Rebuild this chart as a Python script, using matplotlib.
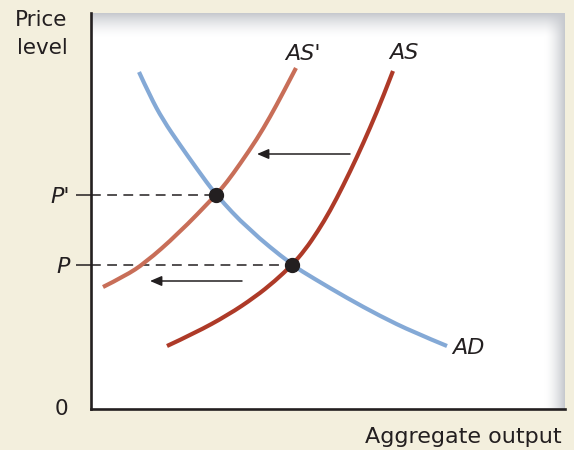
import numpy as np
import matplotlib
matplotlib.use("Agg")
import matplotlib.pyplot as plt
from matplotlib.path import Path
from matplotlib.patches import PathPatch

# ---- data (arbitrary output / price units) ----
AD_x = [48, 59, 72, 89, 106, 125, 157, 201, 222, 256, 289, 322, 356]
AD_y = [337, 313, 289, 264, 240, 214, 180, 144, 131, 111, 93, 77, 63]

ASp_x = [12, 34, 54, 87, 125, 136, 149, 166, 179, 192, 205]
ASp_y = [122, 133, 146, 175, 214, 227, 245, 270, 292, 316, 341]

AS_x = [76, 104, 137, 164, 184, 201, 214, 227, 239, 252, 266, 279, 292, 302]
AS_y = [63, 76, 94, 112, 128, 144, 159, 178, 198, 223, 252, 281, 312, 338]

eq_x = [201, 125]          # equilibrium outputs (AS, AS')
eq_y = [144, 214]          # price levels P, P'
price_labels = ["P", "P'"]

arrow_tail_x = [259, 151]
arrow_tip_x = [166, 59]
arrow_y = [255, 128]

X_MAX, Y_MAX = 474, 396

# ---- style ----
BG = "#f3efdd"
C_AD = "#84a9d6"
C_ASP = "#c86e58"
C_AS = "#ae3a28"
INK = "#231f20"
plt.rcParams['font.family'] = ["DejaVu Sans"]

fig = plt.figure(figsize=(5.74, 4.5), dpi=100, facecolor=BG)
ax = fig.add_axes([91/574, 41/450, 474/574, 396/450])
ax.set_xlim(0, X_MAX)
ax.set_ylim(0, Y_MAX)
ax.set_facecolor("white")

# panel shading (top and right soft shadow)
H, W = 396, 474
ii = np.arange(H)[:, None]
jj = np.arange(W)[None, :]
top = np.clip(1 - ii / 24.0, 0, 1) ** 1.6
right = np.clip(1 - (W - 1 - jj) / 20.0, 0, 1) ** 1.6
s = (1 - (1 - top) * (1 - right)) * np.ones((H, W))
edge = np.array([0.78, 0.79, 0.81])
img = np.ones((H, W, 3)) - s[..., None] * (1 - edge)[None, None, :]
ax.imshow(img, extent=(0, 1, 0, 1), transform=ax.transAxes, aspect='auto',
          zorder=0, interpolation='bilinear')

for sp in ["top", "right"]:
    ax.spines[sp].set_visible(False)
for sp in ["left", "bottom"]:
    ax.spines[sp].set_linewidth(1.9)
    ax.spines[sp].set_color(INK)
    ax.spines[sp].set_zorder(6)

ax.set_xticks([])
ax.set_yticks(eq_y)
ax.set_yticklabels(price_labels, fontsize=16, style='italic', color=INK)
ax.tick_params(axis='y', length=10.8, width=1.1, color=INK, pad=4.5, direction='out')

# dashed guides
for x, y in zip(eq_x, eq_y):
    ax.plot([0, x], [y, y], color=INK, lw=1.1, dashes=(6.4, 4.2), zorder=2)


def smooth_curve(xs, ys, color):
    pts = list(zip(xs, ys))
    verts = [pts[0]]
    codes = [Path.MOVETO]
    n = len(pts)
    for i in range(1, n - 1):
        c = pts[i]
        if i < n - 2:
            e = ((pts[i][0] + pts[i + 1][0]) / 2, (pts[i][1] + pts[i + 1][1]) / 2)
        else:
            e = pts[-1]
        verts += [c, e]
        codes += [Path.CURVE3, Path.CURVE3]
    patch = PathPatch(Path(verts, codes), facecolor='none', edgecolor=color,
                      lw=3.0, capstyle='butt', joinstyle='round', zorder=3)
    ax.add_patch(patch)


smooth_curve(AD_x, AD_y, C_AD)
smooth_curve(ASp_x, ASp_y, C_ASP)
smooth_curve(AS_x, AS_y, C_AS)

# equilibrium dots
ax.plot(eq_x, eq_y, 'o', color=INK, ms=10, zorder=5)

# shift arrows
for tx, hx, y in zip(arrow_tail_x, arrow_tip_x, arrow_y):
    ax.annotate('', xy=(hx, y), xytext=(tx, y),
                arrowprops=dict(arrowstyle='-|>,head_length=0.7,head_width=0.3',
                                lw=1.1, color=INK, shrinkA=0, shrinkB=0))

# curve labels
ax.text(ASp_x[-1] + 7, ASp_y[-1] + 14, "AS'", fontsize=16, style='italic', color=INK,
        ha='center', va='center')
ax.text(AS_x[-1] + 11, AS_y[-1] + 18, "AS", fontsize=16, style='italic', color=INK,
        ha='center', va='center')
ax.text(AD_x[-1] + 5, AD_y[-1] - 2, "AD", fontsize=16, style='italic', color=INK,
        ha='left', va='center')

# axis labels
ax.text(-23 / 474, 0, "0", transform=ax.transAxes, fontsize=15.5, color=INK,
        ha='right', va='center')
fig.text(41/574, 1 - 20/450, "Price", fontsize=15.5, color=INK, ha='center', va='center')
fig.text(42/574, 1 - 48/450, "level", fontsize=15.5, color=INK, ha='center', va='center')
fig.text(562/574, 1 - 437/450, "Aggregate output", fontsize=16, color=INK,
         ha='right', va='center')

fig.savefig("out.png", dpi=100, facecolor=BG)
